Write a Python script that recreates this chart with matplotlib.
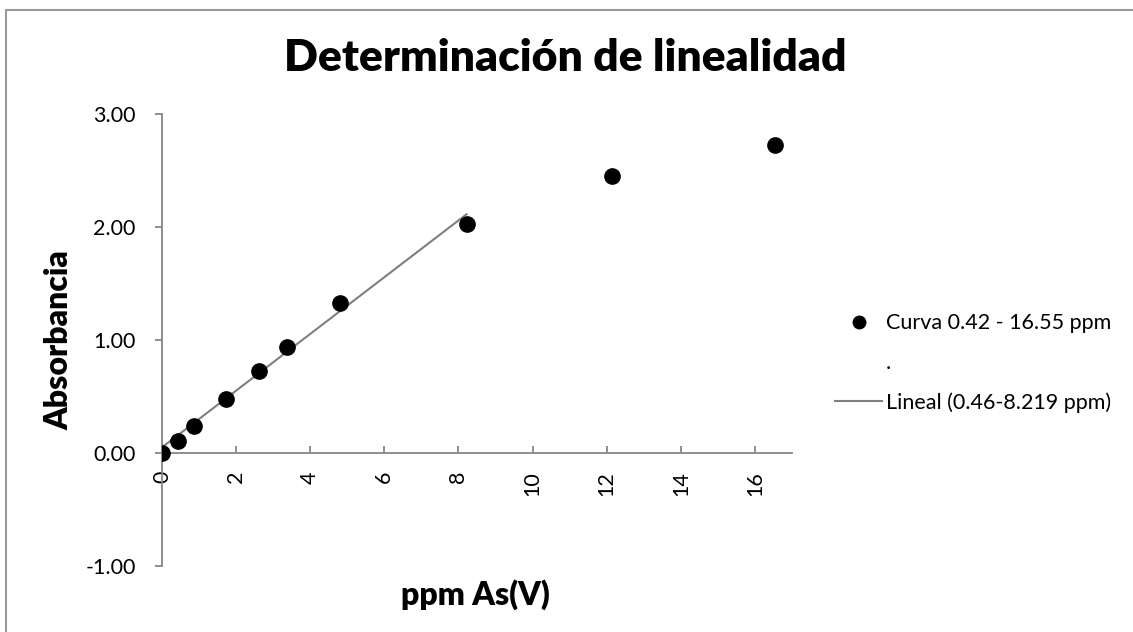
import numpy as np
import matplotlib
matplotlib.use("Agg")
import matplotlib.pyplot as plt
from matplotlib.lines import Line2D
from matplotlib.patches import Rectangle
from matplotlib.ticker import FormatStrFormatter

# data
ppm = [0.0, 0.42, 0.87, 1.72, 2.61, 3.36, 4.79, 8.22, 12.14, 16.55]
absorbancia = [0.00, 0.11, 0.24, 0.48, 0.73, 0.94, 1.33, 2.03, 2.45, 2.73]
# linear trend line (Excel) over the first 8 points
fit_slope = 0.251
fit_intercept = 0.05
n_fit = 8

x_ticks = [0, 2, 4, 6, 8, 10, 12, 14, 16]
y_ticks = [-1, 0, 1, 2, 3]

plt.rcParams['font.family'] = ['Lato', 'DejaVu Sans']
grey = '#868686'

fig = plt.figure(figsize=(11.33, 6.32), dpi=100)
ax = fig.add_axes([0.143, 0.1044, 0.556, 0.7152])

ax.plot(ppm, absorbancia, 'o', color='black', markersize=11, zorder=3)

fx = np.array([ppm[0], ppm[n_fit - 1]])
ax.plot(fx, fit_slope * fx + fit_intercept, color='#7f7f7f', lw=1.5, zorder=2)

ax.set_xlim(0, 17)
ax.set_ylim(-1, 3)
ax.set_xticks(x_ticks)
ax.set_yticks(y_ticks)
ax.yaxis.set_major_formatter(FormatStrFormatter('%.2f'))

ax.spines['top'].set_visible(False)
ax.spines['right'].set_visible(False)
ax.spines['bottom'].set_position(('data', 0))
for s in ['left', 'bottom']:
    ax.spines[s].set_color(grey)
    ax.spines[s].set_linewidth(1.3)

ax.tick_params(axis='x', direction='in', length=5, width=1.3, color=grey,
               pad=13, labelsize=15.5, labelrotation=90)
ax.tick_params(axis='y', direction='out', length=5, width=1.3, color=grey,
               pad=14, labelsize=15.5)
for lab in ax.get_xticklabels():
    lab.set_va('top')

ax.set_xlabel('ppm As(V)', fontsize=23, fontweight='heavy')
ax.xaxis.set_label_coords(0.498, -0.028)
ax.set_ylabel('Absorbancia', fontsize=23, fontweight='heavy', va='center')
ax.yaxis.set_label_coords(-0.164, 0.5)

fig.text(0.4987, 0.909, 'Determinación de linealidad', fontsize=32,
         fontweight='heavy', ha='center', va='center')

handles = [
    Line2D([], [], marker='o', ls='none', color='black', markersize=9),
    Line2D([], [], ls='none'),
    Line2D([], [], color='#7f7f7f', lw=1.5),
]
labels = ['Curva 0.42 - 16.55 ppm', '.', 'Lineal (0.46-8.219 ppm)']
fig.legend(handles, labels, loc='center left', bbox_to_anchor=(0.737, 0.4256),
           frameon=False, fontsize=15.5, handlelength=2.2, handletextpad=0.15,
           labelspacing=0.9, borderpad=0, borderaxespad=0)

# outer chart border
fig.patches.append(Rectangle((0.0053, -0.1), 1.2, 1.084, transform=fig.transFigure,
                             fill=False, edgecolor='#999999', lw=1.5))

fig.savefig('out.png', dpi=100)
